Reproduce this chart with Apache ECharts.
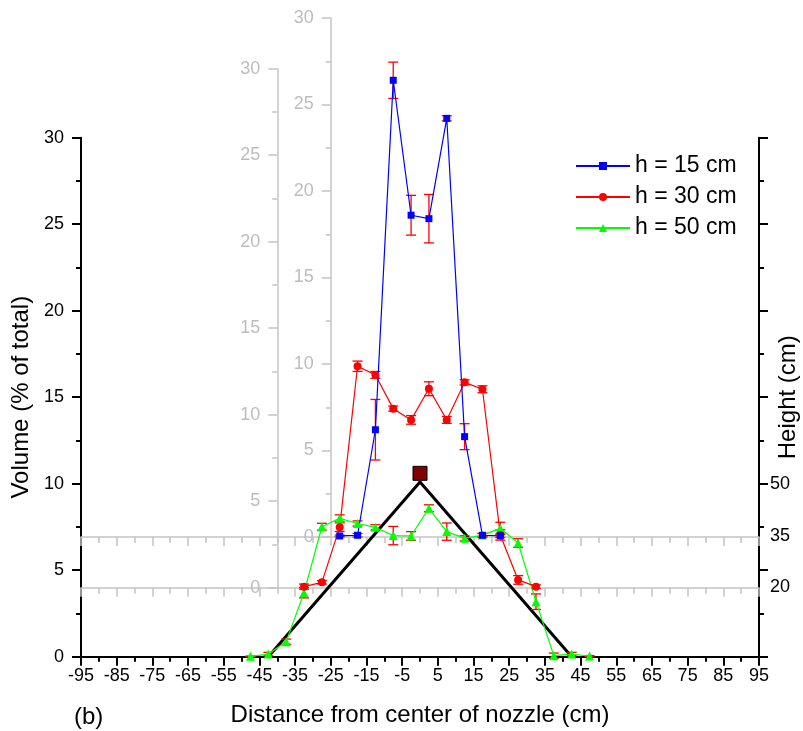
<!DOCTYPE html>
<html><head><meta charset="utf-8">
<script src="https://cdn.jsdelivr.net/npm/echarts@6/dist/echarts.min.js"></script>
<style>html,body{margin:0;padding:0;background:#fff}#c{width:803px;height:731px}</style>
</head><body><div id="c"></div>
<script>
// ---- data ----
const seriesNames = ['h = 15 cm', 'h = 30 cm', 'h = 50 cm'];
const x15 = [-22.5, -17.5, -12.5, -7.5, -2.5, 2.5, 7.5, 12.5, 17.5, 22.5];
const vol15 = [0.06, 0.1, 6.2, 26.4, 18.6, 18.4, 24.2, 5.8, 0.1, 0.07];
const err15 = [0.05, 0.1, 1.75, 1.05, 1.15, 1.4, 0.15, 0.75, 0.1, 0.1];
const x30 = [-32.5, -27.5, -22.5, -17.5, -12.5, -7.5, -2.5, 2.5, 7.5, 12.5, 17.5, 22.5, 27.5, 32.5];
const vol30 = [0.06, 0.31, 3.5, 12.8, 12.3, 10.35, 9.7, 11.5, 9.7, 11.87, 11.47, 3.05, 0.45, 0.06];
const err30 = [0.15, 0.1, 0.25, 0.3, 0.2, 0.15, 0.25, 0.4, 0.2, 0.15, 0.2, 0.3, 0.25, 0.1];
const x50 = [-47.5, -42.5, -37.5, -32.5, -27.5, -22.5, -17.5, -12.5, -7.5, -2.5, 2.5, 7.5, 12.5, 17.5, 22.5, 27.5, 32.5, 37.5, 42.5, 47.5];
const vol50 = [0.02, 0.15, 0.87, 3.7, 7.51, 8.0, 7.7, 7.48, 7.0, 6.98, 8.58, 7.23, 6.84, 7.03, 7.42, 6.57, 3.18, 0.06, 0.15, 0.04];
const err50 = [0.02, 0.1, 0.15, 0.3, 0.2, 0.2, 0.15, 0.15, 0.53, 0.25, 0.2, 0.5, 0.15, 0.1, 0.35, 0.25, 0.45, 0.15, 0.1, 0.02];
const profileX = [-42.5, 0, 42.5];
const profileH = [0, 50.5, 0];
const nozzleX = [0];
const nozzleH = [53];
const heightLabels = [20, 35, 50];
const grayAxisAt15 = -25;   // x position of h=15 volume axis
const grayAxisAt30 = -40;   // x position of h=30 volume axis

// ---- layout ----
const FONT = '"Liberation Sans", Arial, sans-serif';
const GL = 81, GR = 44, GW = 678, XMIN = -95, XMAX = 95;
const pxPerX = GW / (XMAX - XMIN);
const GRAY = '#c4c4c4';

const pairs = (xs, ys) => xs.map((x, i) => [x, ys[i]]);
const errData = (xs, ys, es) => xs.map((x, i) => [x, ys[i] - es[i], ys[i] + es[i]]);

function errRender(params, api) {
  const x = api.value(0), lo = api.value(1), hi = api.value(2);
  const p1 = api.coord([x, hi]), p2 = api.coord([x, lo]);
  const w = 5;
  const st = { stroke: '#ff0000', lineWidth: 1.3 };
  return { type: 'group', children: [
    { type: 'line', shape: { x1: p1[0], y1: p1[1], x2: p2[0], y2: p2[1] }, style: st },
    { type: 'line', shape: { x1: p1[0] - w, y1: p1[1], x2: p1[0] + w, y2: p1[1] }, style: st },
    { type: 'line', shape: { x1: p2[0] - w, y1: p2[1], x2: p2[0] + w, y2: p2[1] }, style: st }
  ]};
}

function grayX(gi) {
  return {
    type: 'value', gridIndex: gi, min: XMIN, max: XMAX, interval: 10,
    axisLine: { show: true, onZero: false, lineStyle: { color: GRAY, width: 1.5 } },
    axisTick: { show: true, length: 9, lineStyle: { color: GRAY, width: 1.5 } },
    minorTick: { show: true, splitNumber: 2, length: 6, lineStyle: { color: GRAY, width: 1.5 } },
    axisLabel: { show: false }, splitLine: { show: false }
  };
}
function grayY(gi, at) {
  return {
    type: 'value', gridIndex: gi, min: 0, max: 30, interval: 5, position: 'left',
    offset: -(at - XMIN) * pxPerX,
    axisLine: { show: true, onZero: false, lineStyle: { color: GRAY, width: 1.5 } },
    axisTick: { show: true, length: 9, lineStyle: { color: GRAY, width: 1.5 } },
    minorTick: { show: true, splitNumber: 2, length: 5, lineStyle: { color: GRAY, width: 1.5 } },
    axisLabel: { color: '#bdbdbd', fontSize: 18, fontFamily: FONT, margin: 17 },
    splitLine: { show: false }
  };
}

const chart = echarts.init(document.getElementById('c'), null, { renderer: 'canvas' });
chart.setOption({
  animation: false,
  backgroundColor: '#fff',
  grid: [
    { left: GL, right: GR, top: 137.7, bottom: 74.3, containLabel: false, outerBoundsMode: 'none' },
    { left: GL, right: GR, top: 68.7, bottom: 143.3, containLabel: false, outerBoundsMode: 'none' },
    { left: GL, right: GR, top: 18, bottom: 194, containLabel: false, outerBoundsMode: 'none' }
  ],
  legend: {
    data: seriesNames, orient: 'vertical', left: 575, top: 154,
    itemWidth: 54, itemHeight: 10, itemGap: 7, padding: 0,
    textStyle: { fontSize: 23, fontFamily: FONT, color: '#000', lineHeight: 24 }
  },
  xAxis: [
    {
      type: 'value', gridIndex: 0, min: XMIN, max: XMAX, interval: 10,
      name: 'Distance from center of nozzle (cm)', nameLocation: 'middle', nameGap: 47,
      nameTextStyle: { fontSize: 24, fontFamily: FONT, color: '#000' },
      axisLine: { onZero: false, lineStyle: { color: '#000', width: 2 } },
      axisTick: { length: 9, lineStyle: { color: '#000', width: 2 } },
      minorTick: { show: true, splitNumber: 2, length: 5, lineStyle: { color: '#000', width: 2 } },
      axisLabel: { fontSize: 18, fontFamily: FONT, color: '#000', margin: 10 },
      splitLine: { show: false }
    },
    grayX(1),
    grayX(2)
  ],
  yAxis: [
    {
      type: 'value', gridIndex: 0, min: 0, max: 30, interval: 5, position: 'left',
      name: 'Volume (% of total)', nameLocation: 'middle', nameGap: 47, nameRotate: 90,
      nameTextStyle: { fontSize: 24, fontFamily: FONT, color: '#000' },
      axisLine: { show: true, onZero: false, lineStyle: { color: '#000', width: 2 } },
      axisTick: { show: true, length: 9, lineStyle: { color: '#000', width: 2 } },
      minorTick: { show: true, splitNumber: 2, length: 5, lineStyle: { color: '#000', width: 2 } },
      axisLabel: { fontSize: 18, fontFamily: FONT, color: '#000', margin: 17 },
      splitLine: { show: false }
    },
    {
      type: 'value', gridIndex: 0, min: 0, max: 150, interval: 25, position: 'right',
      name: 'Height (cm)', nameLocation: 'middle', nameGap: 17, nameRotate: 90,
      nameTextStyle: { fontSize: 24, fontFamily: FONT, color: '#000' },
      axisLine: { show: true, onZero: false, lineStyle: { color: '#000', width: 2 } },
      axisTick: { show: true, length: 9, lineStyle: { color: '#000', width: 2 } },
      minorTick: { show: true, splitNumber: 2, length: 5, lineStyle: { color: '#000', width: 2 } },
      axisLabel: { show: false }, splitLine: { show: false }
    },
    {
      type: 'value', gridIndex: 0, min: 0, max: 150, interval: 5, position: 'right',
      axisLine: { show: false }, axisTick: { show: false }, splitLine: { show: false },
      axisLabel: { fontSize: 18, fontFamily: FONT, color: '#000', margin: 11,
        formatter: v => heightLabels.includes(v) ? String(v) : '' }
    },
    grayY(1, grayAxisAt30),
    grayY(2, grayAxisAt15)
  ],
  graphic: [
    { type: 'text', left: 74, top: 705, style: { text: '(b)', fontSize: 24, fontFamily: FONT, fill: '#000' } }
  ],
  series: [
    { type: 'line', name: 'nozzle profile', xAxisIndex: 0, yAxisIndex: 1, data: pairs(profileX, profileH),
      symbol: 'none', lineStyle: { color: '#000', width: 3 }, z: 2 },
    { type: 'custom', xAxisIndex: 0, yAxisIndex: 0, data: errData(x50, vol50, err50), renderItem: errRender, z: 3 },
    { type: 'line', name: seriesNames[2], xAxisIndex: 0, yAxisIndex: 0, data: pairs(x50, vol50),
      symbol: 'triangle', symbolSize: 9, color: '#00ff00', itemStyle: { color: '#00ff00' },
      lineStyle: { color: '#00ff00', width: 1.2 }, z: 4 },
    { type: 'custom', xAxisIndex: 1, yAxisIndex: 3, data: errData(x30, vol30, err30), renderItem: errRender, z: 3 },
    { type: 'line', name: seriesNames[1], xAxisIndex: 1, yAxisIndex: 3, data: pairs(x30, vol30),
      symbol: 'circle', symbolSize: 8, color: '#ff0000', itemStyle: { color: '#ff0000' },
      lineStyle: { color: '#ff0000', width: 1.2 }, z: 4 },
    { type: 'custom', xAxisIndex: 2, yAxisIndex: 4, data: errData(x15, vol15, err15), renderItem: errRender, z: 3 },
    { type: 'line', name: seriesNames[0], xAxisIndex: 2, yAxisIndex: 4, data: pairs(x15, vol15),
      symbol: 'rect', symbolSize: 7, color: '#0000ff', itemStyle: { color: '#0000ff' },
      lineStyle: { color: '#0000ff', width: 1.2 }, z: 4 },
    { type: 'scatter', name: 'nozzle', xAxisIndex: 0, yAxisIndex: 1, data: pairs(nozzleX, nozzleH),
      symbol: 'rect', symbolSize: 14, itemStyle: { color: '#800000', borderColor: '#000', borderWidth: 1, opacity: 1 }, z: 5 }
  ]
});
</script>
</body></html>
